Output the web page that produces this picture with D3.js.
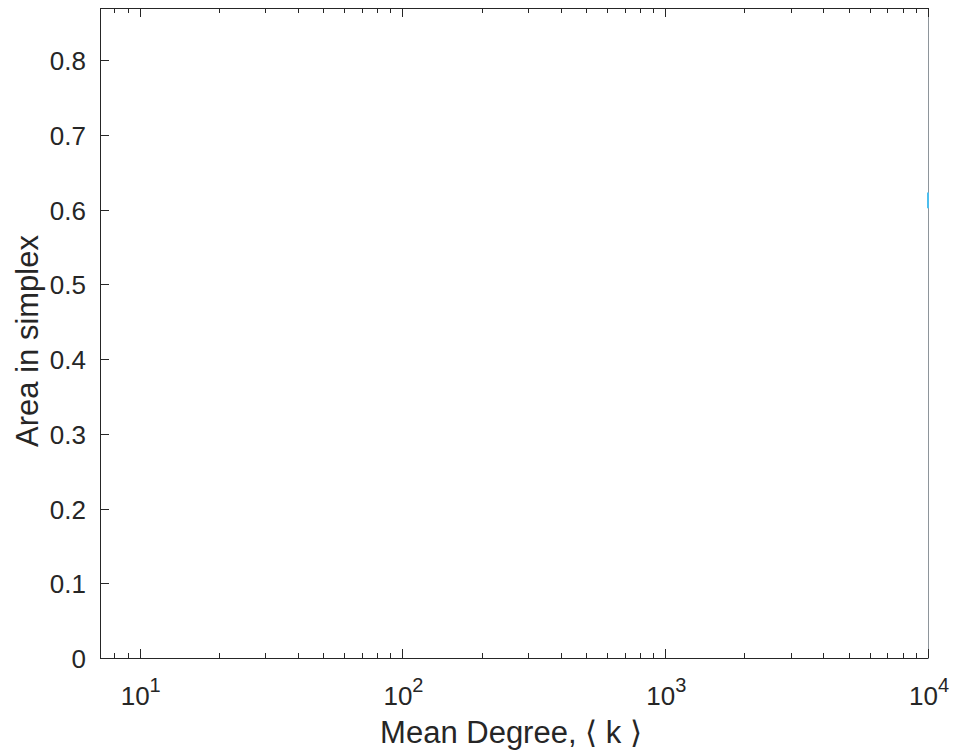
<!DOCTYPE html>
<html>
<head>
<meta charset="utf-8">
<script src="https://cdn.jsdelivr.net/npm/d3@7"></script>
<style>
  body { margin: 0; background: #fff; }
  text { font-family: "Liberation Sans", Arial, Helvetica, sans-serif; fill: #262626; }
</style>
</head>
<body>
<div></div>
<script>
// axis limits
var xDomain = [7, 10000];
var yDomain = [0, 0.87];
var xMajor = [10, 100, 1000, 10000];
var xExp = ["1", "2", "3", "4"];
var yTicks = [0, 0.1, 0.2, 0.3, 0.4, 0.5, 0.6, 0.7, 0.8];

// the only visible data: a short segment clipped at the right edge
var segK = [10000, 10000];
var segArea = [0.602, 0.623];

var width = 957, height = 753;
var plotLeft = 100, plotRight = 929, plotTop = 8, plotBottom = 658;
var axisColor = "#262626";

var svg = d3.select("div").append("svg")
    .attr("width", width)
    .attr("height", height);

var x = d3.scaleLog().domain(xDomain).range([plotLeft, plotRight]);
var y = d3.scaleLinear().domain(yDomain).range([plotBottom, plotTop]);

// minor ticks for log axis
var minor = [];
for (var d = 1; d <= 1000; d *= 10) {
    for (var m = 2; m <= 9; m++) {
        var v = d * m;
        if (v > xDomain[0] && v < xDomain[1]) minor.push(v);
    }
}

var g = svg.append("g");

// box
g.append("line").attr("x1", plotLeft).attr("x2", plotRight).attr("y1", plotBottom + 0.5).attr("y2", plotBottom + 0.5)
    .attr("stroke", axisColor);
g.append("line").attr("x1", plotLeft).attr("x2", plotRight).attr("y1", plotTop + 0.5).attr("y2", plotTop + 0.5)
    .attr("stroke", axisColor);
g.append("line").attr("x1", plotLeft + 0.5).attr("x2", plotLeft + 0.5).attr("y1", plotTop).attr("y2", plotBottom + 1)
    .attr("stroke", axisColor);
g.append("line").attr("x1", plotRight - 0.5).attr("x2", plotRight - 0.5).attr("y1", plotTop).attr("y2", plotBottom + 1)
    .attr("stroke", "#8e959b");

// data, drawn over the right edge
g.append("path")
    .datum(d3.zip(segK, segArea))
    .attr("fill", "none")
    .attr("stroke", "#4DBEEE")
    .attr("stroke-width", 2)
    .attr("d", d3.line().x(function(p) { return x(p[0]) - 1; }).y(function(p) { return y(p[1]); }));

// x ticks (inward, bottom and top)
var tickLen = 9, minorLen = 5;
xMajor.forEach(function(v) {
    var px = Math.round(x(v)) - 0.5;
    g.append("line").attr("x1", px).attr("x2", px).attr("y1", plotBottom).attr("y2", plotBottom - tickLen).attr("stroke", axisColor);
    g.append("line").attr("x1", px).attr("x2", px).attr("y1", plotTop).attr("y2", plotTop + tickLen).attr("stroke", axisColor);
});
minor.forEach(function(v) {
    var px = Math.round(x(v)) - 0.5;
    g.append("line").attr("x1", px).attr("x2", px).attr("y1", plotBottom).attr("y2", plotBottom - minorLen).attr("stroke", axisColor);
    g.append("line").attr("x1", px).attr("x2", px).attr("y1", plotTop).attr("y2", plotTop + minorLen).attr("stroke", axisColor);
});

// y ticks
yTicks.forEach(function(v) {
    var py = Math.round(y(v)) + 0.5;
    g.append("line").attr("x1", plotLeft).attr("x2", plotLeft + tickLen).attr("y1", py).attr("y2", py).attr("stroke", axisColor);
    g.append("text")
        .attr("x", 86).attr("y", py + 9)
        .attr("text-anchor", "end")
        .attr("font-size", 26)
        .text(String(v));
});

// x tick labels: 10^n
xMajor.forEach(function(v, i) {
    var t = g.append("text")
        .attr("x", x(v))
        .attr("y", 705)
        .attr("text-anchor", "middle")
        .attr("font-size", 26);
    t.append("tspan").text("10");
    t.append("tspan").attr("font-size", 20).attr("dy", -13).text(xExp[i]);
});

// axis labels
svg.append("text")
    .attr("x", 511)
    .attr("y", 743)
    .attr("text-anchor", "middle")
    .attr("font-size", 31)
    .text("Mean Degree, \u27E8 k \u27E9");

svg.append("text")
    .attr("transform", "translate(38,341) rotate(-90)")
    .attr("text-anchor", "middle")
    .attr("font-size", 31)
    .text("Area in simplex");
</script>
</body>
</html>
